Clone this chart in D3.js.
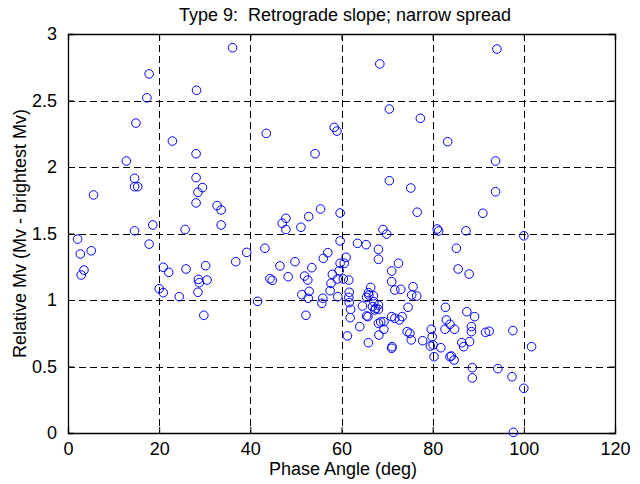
<!DOCTYPE html>
<html>
<head>
<meta charset="utf-8">
<script src="https://cdn.jsdelivr.net/npm/d3@7"></script>
<style>
  html, body { margin: 0; padding: 0; background: #fff; }
  svg { display: block; }
  text { font-family: "Liberation Sans", Arial, Helvetica, sans-serif; fill: #000; }
</style>
</head>
<body>
<svg id="chart" width="640" height="484"></svg>
<script>
const titleText = "Type 9:  Retrograde slope; narrow spread";
const xLabel = "Phase Angle (deg)";
const yLabel = "Relative Mv (Mv - brightest Mv)";
const xTicks = [0, 20, 40, 60, 80, 100, 120];
const yTicks = [0, 0.5, 1, 1.5, 2, 2.5, 3];

const phaseAngle = [
  36.1, 17.8, 28.2, 17.3, 14.9, 22.9, 28.1, 12.8, 68.4, 70.5,
  77.3, 43.5, 58.4, 59.0, 54.2, 83.3, 94.1, 93.8, 14.6, 14.6,
  15.3, 5.6, 28.1, 28.5, 29.5, 28.1, 32.7, 33.6, 33.6, 18.6,
  14.6, 25.7, 2.1, 17.8, 2.7, 5.1, 39.2, 36.8, 3.5, 2.9,
  20.9, 22.1, 25.9, 30.2, 28.6, 28.8, 30.5, 20.0, 20.9, 24.4,
  28.5, 29.8, 41.6, 70.5, 75.2, 76.6, 55.4, 52.8, 47.8, 47.0,
  47.8, 51.1, 59.7, 69.1, 69.9, 81.0, 81.3, 59.7, 63.5, 65.4,
  43.2, 68.1, 68.1, 57.0, 56.0, 61.0, 49.8, 46.5, 53.5, 59.7,
  60.6, 59.5, 72.5, 71.0, 44.3, 44.8, 48.3, 51.9, 52.6, 58.0,
  57.7, 59.1, 60.4, 61.6, 71.0, 57.5, 52.9, 51.3, 61.7, 66.4,
  65.9, 67.0, 75.7, 71.7, 73.0, 75.4, 76.5, 55.9, 59.2, 61.6,
  52.7, 52.2, 55.7, 61.7, 62.0, 61.9, 61.3, 64.0, 64.6, 65.5,
  66.0, 65.5, 65.8, 67.1, 66.8, 67.5, 68.1, 68.1, 67.3, 65.9,
  68.1, 68.6, 69.3, 68.2, 69.3, 71.0, 71.7, 72.7, 73.3, 74.6,
  71.1, 71.0, 74.4, 75.0, 75.3, 77.8, 79.7, 79.9, 79.5, 80.1,
  81.8, 80.3, 82.8, 83.0, 82.7, 83.8, 83.8, 84.8, 84.1, 84.7,
  87.5, 89.2, 88.5, 88.5, 88.1, 86.4, 86.8, 91.6, 92.4, 97.6,
  101.7, 88.7, 88.7, 94.3, 97.4, 100.0, 97.7, 93.8, 91.0, 87.3,
  100.0, 85.2, 85.6, 88.0
];
const relativeMv = [
  2.897, 2.70, 2.577, 2.52, 2.33, 2.195, 2.10, 2.045, 2.775, 2.436,
  2.366, 2.253, 2.298, 2.27, 2.10, 2.19, 2.887, 2.045, 1.915, 1.852,
  1.852, 1.79, 1.92, 1.81, 1.845, 1.73, 1.71, 1.677, 1.564, 1.564,
  1.52, 1.53, 1.458, 1.42, 1.346, 1.37, 1.358, 1.288, 1.225, 1.188,
  1.246, 1.208, 1.233, 1.258, 1.155, 1.13, 1.15, 1.085, 1.055, 1.025,
  1.058, 0.885, 0.99, 1.897, 1.842, 1.66, 1.684, 1.627, 1.614, 1.577,
  1.53, 1.547, 1.654, 1.53, 1.496, 1.534, 1.519, 1.444, 1.426, 1.416,
  1.389, 1.381, 1.306, 1.356, 1.313, 1.321, 1.288, 1.256, 1.243, 1.276,
  1.276, 1.22, 1.276, 1.218, 1.16, 1.148, 1.175, 1.18, 1.15, 1.193,
  1.125, 1.158, 1.158, 1.15, 1.138, 1.07, 1.065, 1.04, 1.058, 1.095,
  1.055, 1.032, 1.10, 1.075, 1.08, 1.038, 1.03, 1.013, 1.025, 1.02,
  1.013, 0.885, 0.975, 0.98, 0.93, 0.867, 0.73, 0.80, 0.955, 1.02,
  1.038, 0.88, 0.875, 0.987, 0.95, 0.937, 0.962, 0.93, 0.925, 0.679,
  0.825, 0.835, 0.837, 0.737, 0.78, 0.875, 0.862, 0.85, 0.875, 0.945,
  0.649, 0.637, 0.762, 0.75, 0.70, 0.694, 0.78, 0.724, 0.654, 0.662,
  0.641, 0.574, 0.945, 0.85, 0.78, 0.574, 0.817, 0.78, 0.579, 0.549,
  0.912, 0.875, 0.80, 0.762, 0.687, 0.679, 0.649, 0.757, 0.765, 0.77,
  0.649, 0.491, 0.414, 0.484, 0.423, 0.336, 0.005, 1.814, 1.652, 1.52,
  1.483, 1.389, 1.233, 1.195
];

const plotLeft = 68, plotRight = 615, plotTop = 34, plotBottom = 433;
const fs = 18;

const svg = d3.select("#chart");
const x = d3.scaleLinear().domain([0, 120]).range([plotLeft, plotRight]);
const y = d3.scaleLinear().domain([0, 3]).range([plotBottom, plotTop]);

// grid
const grid = svg.append("g").attr("stroke", "#000").attr("stroke-width", 1)
  .attr("stroke-dasharray", "7,4").attr("fill", "none");
xTicks.slice(1, -1).forEach(t => {
  grid.append("line").attr("x1", Math.round(x(t)) + 0.5).attr("x2", Math.round(x(t)) + 0.5)
    .attr("y1", plotTop).attr("y2", plotBottom);
});
yTicks.slice(1, -1).forEach(t => {
  grid.append("line").attr("y1", Math.round(y(t)) + 0.5).attr("y2", Math.round(y(t)) + 0.5)
    .attr("x1", plotLeft).attr("x2", plotRight);
});

// axes
const xAxis = d3.axisBottom(x).tickValues(xTicks).tickSize(-6).tickPadding(9).tickFormat(d3.format("d"));
const xAxisTop = d3.axisTop(x).tickValues(xTicks).tickSize(-6).tickFormat("");
const yAxis = d3.axisLeft(y).tickValues(yTicks).tickSize(-6).tickPadding(11).tickFormat(d => String(d));
const yAxisRight = d3.axisRight(y).tickValues(yTicks).tickSize(-6).tickFormat("");

function styleAxis(g) {
  g.select(".domain").attr("stroke", "#000").attr("stroke-width", 1.3);
  g.selectAll(".tick line").attr("stroke", "#000").attr("stroke-width", 1);
  g.selectAll(".tick text").attr("font-size", fs).attr("font-family", "Liberation Sans, Arial, sans-serif").attr("fill", "#000");
  g.attr("font-size", fs);
}
svg.append("g").attr("transform", `translate(0,${plotBottom})`).call(xAxis).call(styleAxis);
svg.append("g").attr("transform", `translate(0,${plotTop})`).call(xAxisTop).call(styleAxis);
svg.append("g").attr("transform", `translate(${plotLeft},0)`).call(yAxis).call(styleAxis);
svg.append("g").attr("transform", `translate(${plotRight},0)`).call(yAxisRight).call(styleAxis);

// points
const pts = phaseAngle.map((p, i) => ({ p, m: relativeMv[i] }));
svg.append("g").selectAll("circle").data(pts).enter().append("circle")
  .attr("cx", d => x(d.p)).attr("cy", d => y(d.m)).attr("r", 4.3)
  .attr("fill", "none").attr("stroke", "#0000ff").attr("stroke-width", 1);

// labels
svg.append("text").attr("x", 345).attr("y", 21).attr("text-anchor", "middle")
  .attr("font-size", fs).style("white-space", "pre").text(titleText);
svg.append("text").attr("x", 343).attr("y", 475).attr("text-anchor", "middle")
  .attr("font-size", fs).text(xLabel);
svg.append("text").attr("transform", `translate(26,${(plotTop + plotBottom) / 2}) rotate(-90)`)
  .attr("text-anchor", "middle").attr("font-size", fs).text(yLabel);
</script>
</body>
</html>
